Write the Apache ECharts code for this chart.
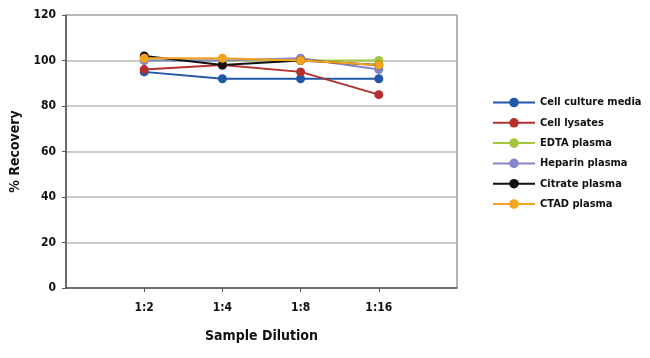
<!DOCTYPE html>
<html><head><meta charset="utf-8">
<script src="https://cdn.jsdelivr.net/npm/echarts@6/dist/echarts.min.js"></script>
<style>html,body{margin:0;padding:0;background:#fff}#c{width:650px;height:358px}</style>
</head><body><div id="c"></div>
<script>
const categories = ['', '1:2', '1:4', '1:8', '1:16', ''];
const seriesNames = ['Cell culture media', 'Cell lysates', 'EDTA plasma', 'Heparin plasma', 'Citrate plasma', 'CTAD plasma'];
const cellCulture = [null, 95, 92, 92, 92, null];
const cellLysates = [null, 96, 98, 95, 85, null];
const edta = [null, 100, 100, 100, 100, null];
const heparin = [null, 100, 100, 101, 96, null];
const citrate = [null, 102, 98, 100, 98, null];
const ctad = [null, 101, 101, 100, 98, null];
const yTicks = [0, 20, 40, 60, 80, 100, 120];
const colors = ['#2058a8', '#b3302d', '#a2c73b', '#8585cc', '#111111', '#f5a41e'];
const allData = [cellCulture, cellLysates, edta, heparin, citrate, ctad];
const font = '"DejaVu Sans Condensed", "Liberation Sans Narrow", sans-serif';
const chart = echarts.init(document.getElementById('c'));
chart.setOption({
  animation: false,
  color: colors,
  grid: {left: 66, right: 193, top: 15, bottom: 70, show: true, borderColor: '#666', borderWidth: 1},
  legend: {
    orient: 'vertical', left: 487, top: 92, itemGap: 9.3, itemWidth: 42, itemHeight: 12,
    textStyle: {fontFamily: font, fontWeight: 'bold', fontSize: 11, color: '#111'},
    data: seriesNames
  },
  xAxis: {
    type: 'category', data: categories, boundaryGap: false,
    name: 'Sample Dilution', nameLocation: 'middle', nameGap: 41,
    nameTextStyle: {fontFamily: font, fontWeight: 'bold', fontSize: 14, color: '#111'},
    axisLine: {lineStyle: {color: '#555', width: 1.5}},
    axisTick: {interval: (i, v) => v !== '', length: 4, lineStyle: {color: '#555'}},
    axisLabel: {interval: 0, fontFamily: font, fontWeight: 'bold', fontSize: 12, color: '#111', margin: 14},
    splitLine: {show: false}
  },
  yAxis: {
    type: 'value', min: yTicks[0], max: yTicks[yTicks.length - 1], interval: 20,
    name: '% Recovery', nameLocation: 'middle', nameGap: 37,
    nameTextStyle: {fontFamily: font, fontWeight: 'bold', fontSize: 14, color: '#111'},
    axisLine: {show: true, lineStyle: {color: '#555', width: 1.5}},
    axisTick: {show: true, length: 4, lineStyle: {color: '#555'}},
    axisLabel: {fontFamily: font, fontWeight: 'bold', fontSize: 12, color: '#111', margin: 10},
    splitLine: {lineStyle: {color: '#bbb', width: 1.5}}
  },
  series: seriesNames.map((n, i) => ({
    name: n, type: 'line', data: allData[i],
    symbol: 'circle', symbolSize: 9,
    lineStyle: {width: 2, color: colors[i]},
    itemStyle: {color: colors[i]}
  }))
});
</script></body></html>
